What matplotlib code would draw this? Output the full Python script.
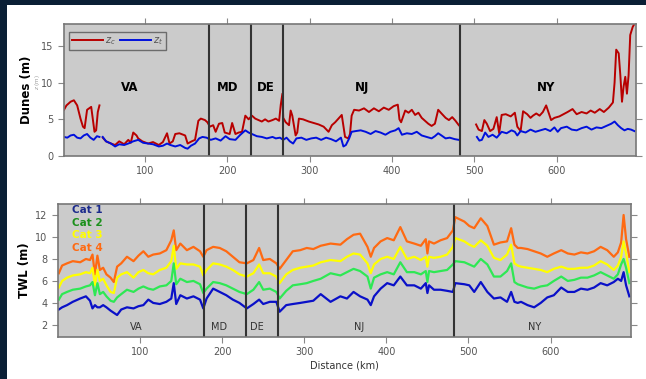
import numpy as np
import matplotlib
matplotlib.use("Agg")
import matplotlib.pyplot as plt
from matplotlib.patches import Rectangle

nan = np.nan

# --- dune crest / toe elevations (top panel) ---
zc_km = [2, 5, 10, 14, 18, 22, 25, 27, 30, 35, 37, 39, 41, 43, 45, 46, 49, 53, 59, 64,
         69, 75, 80, 83, 86, 90, 92, 97, 104, 110, 117, 122, 127, 130, 134, 137, 142, 149, 152, 157,
         161, 165, 168, 173, 176, 179, 183, 186, 190, 194, 197, 203, 206, 210, 214, 218, 222, 226, 230, 234,
         238, 242, 246, 250, 255, 259, 263, 265, 267, 268, 271, 275, 277, 279, 283, 285, 287, 292, 299, 305,
         311, 317, 323, 327, 331, 335, 339, 343, 347, 349, 351, 354, 360, 366, 372, 378, 384, 390, 396, 402,
         407, 409, 411, 416, 420, 424, 428, 432, 436, 440, 444, 448, 452, 456, 460, 465, 469, 473, 477, 481,
         482, 502, 505, 509, 512, 515, 519, 523, 527, 530, 533, 538, 544, 549, 552, 556, 559, 564, 568, 571,
         575, 579, 583, 587, 590, 593, 597, 603, 608, 613, 619, 624, 630, 636, 641, 646, 652, 657, 663, 668,
         670, 672, 675, 677, 679, 681, 683, 685, 687, 689, 692, 694]
zc_m = [6.3, 6.9, 7.4, 7.6, 6.9, 5.1, 4.0, 3.8, 6.3, 6.7, 5.0, 3.3, 3.5, 6.0, 6.9, nan, 2.5, 2.0, 1.7, 1.5,
        2.0, 1.6, 2.2, 1.8, 3.2, 2.8, 2.4, 2.0, 1.7, 1.9, 1.5, 1.9, 3.1, 1.7, 2.0, 3.0, 3.1, 2.8, 1.7, 2.0,
        2.2, 4.8, 5.1, 4.9, 4.6, 4.0, 4.2, 3.3, 4.4, 4.5, 3.2, 3.0, 4.5, 3.0, 3.2, 3.3, 5.5, 5.0, 5.5, 5.1,
        4.9, 4.7, 5.0, 4.7, 4.9, 5.1, 4.8, 7.0, 8.5, 5.2, 4.6, 4.2, 6.2, 5.5, 2.8, 3.2, 5.1, 5.0, 4.7, 4.5,
        4.3, 4.0, 3.3, 4.2, 4.6, 5.1, 5.6, 2.6, 2.4, 3.0, 5.5, 6.3, 6.2, 6.5, 6.0, 6.5, 6.1, 6.6, 6.3, 6.8,
        7.0, 5.0, 4.6, 6.2, 5.9, 6.3, 5.6, 5.9, 5.2, 4.8, 4.4, 4.1, 4.4, 6.3, 5.8, 5.2, 4.9, 5.3, 4.8, 4.2,
        nan, 4.3, 3.6, 3.4, 4.9, 4.4, 3.4, 3.7, 5.3, 3.1, 5.6, 5.7, 5.4, 5.9, 4.0, 3.4, 6.1, 5.7, 5.2, 5.5,
        5.8, 5.5, 6.0, 6.9, 5.9, 4.9, 5.2, 5.4, 5.7, 6.0, 6.4, 5.7, 6.0, 5.8, 6.2, 5.9, 6.4, 6.0, 6.6, 7.3,
        10.0, 14.5, 14.0, 11.0, 7.4, 9.5, 10.8, 8.5, 11.0, 16.5, 17.6, 18.0]

zt_km = [2, 6, 10, 14, 18, 22, 26, 30, 34, 38, 42, 45, 46, 49, 53, 59, 64, 69, 75, 80,
         86, 92, 98, 104, 110, 117, 122, 127, 131, 137, 143, 149, 152, 156, 161, 166, 170, 175, 180, 186,
         192, 198, 203, 210, 216, 222, 226, 230, 236, 242, 248, 255, 259, 264, 268, 272, 276, 280, 284, 290,
         296, 302, 308, 314, 320, 326, 332, 338, 341, 344, 348, 351, 356, 362, 368, 374, 380, 386, 392, 398,
         404, 408, 412, 418, 424, 430, 436, 442, 448, 452, 456, 460, 465, 470, 476, 481, 482, 503, 506, 509,
         513, 517, 522, 527, 533, 539, 545, 549, 552, 556, 562, 568, 574, 580, 586, 592, 597, 601, 605, 612,
         618, 624, 630, 636, 642, 648, 654, 660, 666, 670, 674, 678, 682, 686, 690, 694]
zt_m = [2.6, 2.5, 2.8, 2.9, 2.5, 2.4, 2.8, 3.0, 2.5, 2.2, 2.7, 2.6, nan, 2.6, 2.0, 1.7, 1.3, 1.6, 1.5, 1.7,
        2.0, 2.2, 1.8, 1.7, 1.6, 1.3, 1.4, 1.7, 1.5, 1.3, 1.5, 1.1, 1.0, 1.4, 1.7, 2.4, 2.6, 2.5, 2.2, 2.4,
        2.1, 2.7, 2.3, 2.2, 2.9, 3.5, 3.2, 3.0, 2.7, 2.6, 2.4, 2.6, 2.4, 2.5, 2.2, 2.5, 2.0, 1.7, 2.4, 2.5,
        2.2, 2.4, 2.5, 2.2, 2.5, 2.3, 2.0, 2.5, 1.3, 1.5, 2.4, 3.3, 3.4, 3.5, 3.3, 3.0, 3.4, 3.2, 2.9, 3.3,
        3.5, 3.8, 2.9, 3.1, 3.0, 3.3, 2.8, 2.6, 2.4, 2.7, 3.1, 2.8, 2.4, 2.5, 2.3, 2.2, nan, 2.6, 2.1, 2.2,
        3.2, 2.6, 2.9, 2.5, 3.3, 3.1, 3.5, 3.3, 2.8, 3.4, 3.2, 3.6, 3.3, 3.5, 3.7, 3.4, 3.9, 3.3, 3.8, 4.0,
        3.6, 3.5, 3.8, 4.0, 3.6, 3.9, 3.8, 4.1, 4.4, 4.7, 4.2, 3.8, 3.5, 3.7, 3.6, 3.4]

# --- total water level per storm category (bottom panel) ---
twl_km = [1, 5, 11, 18, 27, 34, 39, 42, 45, 48, 51, 55, 59, 64, 68, 72, 77, 84, 92, 98,
          104, 110, 116, 124, 132, 138, 141, 144, 149, 157, 165, 173, 177, 181, 189, 197, 205, 213, 221, 230,
          238, 245, 250, 258, 266, 270, 278, 286, 295, 303, 311, 320, 332, 344, 352, 360, 368, 377, 381, 385,
          393, 401, 409, 417, 425, 434, 442, 448, 450, 452, 458, 466, 474, 481, 484, 495, 501, 507, 515, 523,
          531, 539, 547, 552, 556, 560, 564, 572, 580, 588, 596, 604, 613, 621, 629, 637, 645, 653, 661, 669,
          677, 682, 686, 689, 692, 696]
cat4 = [6.7, 7.4, 7.6, 7.8, 7.7, 8.0, 7.9, 8.4, 6.6, 8.3, 7.0, 7.2, 6.6, 6.3, 5.9, 7.3, 7.6, 8.2, 7.8, 8.3,
        8.7, 8.2, 8.4, 8.5, 8.8, 9.7, 10.6, 8.8, 9.4, 8.8, 9.1, 8.7, 8.2, 8.8, 9.1, 9.0, 8.7, 8.2, 7.7, 7.6,
        7.9, 9.0, 7.9, 8.0, 7.6, 7.1, 7.9, 8.7, 8.8, 9.0, 8.9, 9.2, 9.4, 9.3, 9.8, 10.2, 10.3, 9.1, 8.2, 9.0,
        9.6, 9.9, 9.7, 10.9, 9.6, 9.4, 9.2, 9.8, 8.5, 9.6, 9.4, 9.7, 9.9, 10.6, 11.8, 11.4, 11.0, 10.8, 11.7, 11.0,
        9.3, 9.5, 9.6, 10.8, 9.3, 9.0, 9.0, 8.9, 8.7, 8.5, 8.2, 8.5, 8.8, 8.5, 8.4, 8.6, 8.5, 8.7, 9.1, 8.8,
        8.2, 8.6, 9.5, 12.0, 9.8, 8.2]
cat3 = [5.4, 6.0, 6.3, 6.5, 6.6, 6.8, 6.7, 7.2, 5.6, 7.0, 6.0, 6.2, 5.6, 5.0, 4.9, 6.3, 6.6, 6.8, 6.3, 6.8,
        7.0, 6.7, 6.6, 7.0, 7.2, 7.8, 9.2, 7.1, 7.6, 7.5, 7.5, 7.3, 6.5, 7.0, 7.6, 7.5, 7.3, 7.0, 6.6, 6.4,
        6.7, 7.5, 6.7, 6.7, 6.4, 5.8, 6.6, 7.0, 7.2, 7.3, 7.4, 7.7, 7.9, 7.8, 8.2, 8.5, 8.4, 7.6, 6.7, 7.5,
        8.0, 8.2, 8.0, 9.1, 8.0, 8.2, 7.9, 8.2, 7.3, 8.2, 8.1, 8.2, 8.4, 9.1, 9.9, 9.6, 9.3, 9.1, 9.7, 9.2,
        8.1, 7.9, 8.4, 9.3, 7.6, 7.4, 7.3, 7.2, 7.1, 7.0, 6.8, 7.1, 7.3, 7.1, 7.1, 7.2, 7.2, 7.4, 7.8, 7.5,
        7.0, 7.4, 8.2, 9.6, 8.5, 6.8]
cat2 = [4.3, 4.8, 5.0, 5.2, 5.3, 5.5, 5.6, 5.9, 4.7, 5.8, 4.8, 5.0, 4.6, 4.2, 4.1, 4.5, 4.8, 5.2, 5.0, 5.3,
        5.5, 5.3, 5.2, 5.5, 5.6, 6.0, 7.6, 5.7, 6.2, 5.9, 6.0, 5.7, 4.9, 5.3, 5.9, 5.8, 5.6, 5.3, 5.0, 4.8,
        5.2, 5.9, 5.2, 5.3, 5.0, 4.4, 5.1, 5.6, 5.7, 5.8, 6.0, 6.2, 6.7, 6.5, 6.8, 7.1, 6.9, 6.4, 5.3, 6.3,
        6.6, 6.8, 6.6, 7.7, 6.8, 6.8, 6.6, 6.9, 5.9, 6.9, 6.8, 6.9, 7.0, 7.5, 7.8, 7.7, 7.5, 7.3, 8.0, 7.5,
        6.4, 6.4, 6.9, 7.6, 5.9, 5.7, 5.6, 5.4, 5.3, 5.5, 5.6, 6.0, 6.4, 6.0, 6.1, 6.3, 6.3, 6.5, 6.8, 6.5,
        6.2, 6.6, 7.5, 8.0, 7.2, 5.8]
cat1 = [3.4, 3.6, 3.8, 4.1, 4.4, 4.6, 4.2, 3.5, 3.8, 3.6, 3.6, 3.8, 3.6, 3.3, 3.1, 2.9, 3.4, 3.6, 3.5, 3.7,
        3.8, 4.3, 4.0, 3.9, 4.1, 4.4, 5.8, 3.9, 4.7, 4.4, 4.6, 4.3, 3.5, 4.4, 5.3, 5.0, 4.7, 4.3, 4.0, 3.5,
        3.9, 4.3, 3.9, 4.1, 4.1, 3.2, 3.8, 3.9, 4.0, 4.1, 4.2, 4.8, 4.1, 4.6, 4.4, 5.0, 4.6, 4.3, 3.8, 4.6,
        5.3, 5.8, 5.6, 6.4, 5.6, 5.6, 5.3, 5.8, 4.9, 5.6, 5.2, 5.2, 5.1, 5.0, 5.8, 5.7, 5.6, 5.0, 5.9, 5.0,
        4.4, 4.5, 4.1, 5.0, 4.1, 4.0, 4.1, 3.8, 3.6, 4.0, 4.5, 4.7, 5.4, 5.0, 5.0, 5.3, 5.2, 5.4, 5.8, 5.6,
        5.9, 6.2, 6.0, 6.8, 5.6, 4.6]

state_bounds = [178, 229, 268, 482]
states = ["VA", "MD", "DE", "NJ", "NY"]
state_x_top = [82, 201, 247, 364, 587]
state_x_bot = [95, 196, 242, 367, 580]

cat_names = ["Cat 1", "Cat 2", "Cat 3", "Cat 4"]
cat_colors = ["#0a10c8", "#2ee854", "#ffff00", "#ff6a12"]
cat_text_colors = ["#1b2a8c", "#1c901c", "#ffff00", "#ff6a12"]

# white page with a dark navy border on the left and top
fig = plt.figure(figsize=(6.46, 3.79), dpi=100)
fig.patch.set_facecolor("white")
dark = "#0a1f35"
fig.patches.append(Rectangle((0, 0), 7 / 646, 1, transform=fig.transFigure,
                             facecolor=dark, edgecolor="none"))
fig.patches.append(Rectangle((0, 1 - 5 / 379), 1, 5 / 379, transform=fig.transFigure,
                             facecolor=dark, edgecolor="none"))

axfc = "#cbcbcb"
tickc = "#555555"


def style(ax):
    ax.set_facecolor(axfc)
    for s in ax.spines.values():
        s.set_color("#777777")
        s.set_linewidth(1.2)
    ax.tick_params(direction="out", length=4, width=0.8, colors="#888888",
                   labelcolor=tickc, labelsize=7, top=True, right=True)


# top panel
ax1 = fig.add_axes([64 / 646, 1 - 156 / 379, 572 / 646, 132 / 379])
style(ax1)
ax1.plot(zc_km, zc_m, color="#b80000", lw=1.4, label="$z_c$")
ax1.plot(zt_km, zt_m, color="#0010dd", lw=1.4, label="$z_t$")
for b in state_bounds:
    ax1.axvline(b, color="#333333", lw=1.5)
for s, x in zip(states, state_x_top):
    ax1.text(x, 9.4, s, ha="center", va="center", fontsize=8.5, fontweight="bold")
ax1.set_xlim(2, 696)
ax1.set_ylim(0, 18)
ax1.set_xticks([100, 200, 300, 400, 500, 600])
ax1.set_yticks([0, 5, 10, 15])
ax1.set_ylabel("Dunes (m)", fontsize=8.5, fontweight="bold", labelpad=6)
leg = ax1.legend(loc="upper left", ncol=2, fontsize=7, handlelength=3.2, columnspacing=0.4,
                 handletextpad=0.2, borderpad=0.35, fancybox=False, bbox_to_anchor=(0.0, 0.98))
leg.get_frame().set_facecolor(axfc)
leg.get_frame().set_edgecolor("#555555")
leg.get_frame().set_linewidth(1.0)
for t in leg.get_texts():
    t.set_color("#555555")
fig.text(37 / 646, 1 - 82 / 379, "$z$ (m)", rotation=90, fontsize=4, color="#999999",
         ha="center", va="center")

# bottom panel
ax2 = fig.add_axes([58 / 646, 1 - 337 / 379, 573 / 646, 133 / 379])
style(ax2)
for vals, c in zip([cat4, cat3, cat2, cat1], cat_colors[::-1]):
    ax2.plot(twl_km, vals, color=c, lw=1.6)
for b in state_bounds:
    ax2.axvline(b, color="#333333", lw=1.5)
for s, x in zip(states, state_x_bot):
    ax2.text(x, 1.8, s, ha="center", va="center", fontsize=7, color="#333333")
for i, (n, c) in enumerate(zip(cat_names, cat_text_colors)):
    ax2.text(0.024, 0.955 - i * 0.095, n, transform=ax2.transAxes, color=c,
             fontsize=7.5, fontweight="bold", va="center")
ax2.set_xlim(0, 698)
ax2.set_ylim(0.9, 13)
ax2.set_xticks([100, 200, 300, 400, 500, 600])
ax2.set_yticks([2, 4, 6, 8, 10, 12])
ax2.set_ylabel("TWL (m)", fontsize=8.5, fontweight="bold", labelpad=3)
ax2.set_xlabel("Distance (km)", fontsize=7, color="#333333", labelpad=2)

fig.savefig("out.png", dpi=100, facecolor=fig.get_facecolor())
